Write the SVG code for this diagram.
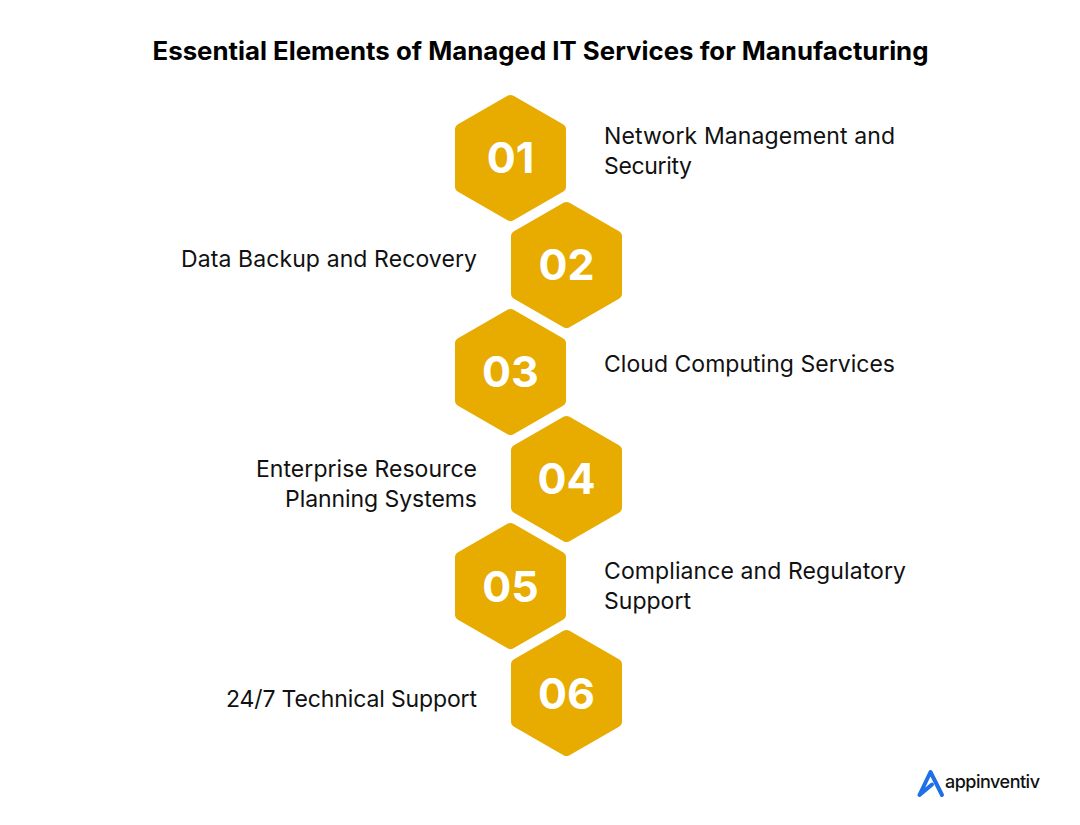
<svg xmlns="http://www.w3.org/2000/svg" width="1080" height="825" viewBox="0 0 1080 825">
<style>
.title{font:700 25px "Inter","Liberation Sans",sans-serif;fill:#000}
.lab{font:400 23px "Inter","Liberation Sans",sans-serif;fill:#111}
.num{font:700 43px "Inter","Liberation Sans",sans-serif;fill:#fff;text-anchor:middle}
.r{text-anchor:end}
.hex{fill:#e8ab00;stroke:#e8ab00;stroke-width:12;stroke-linejoin:round}
</style>
<defs><polygon id="h" points="0,-57 49.5,-28.5 49.5,28.5 0,57 -49.5,28.5 -49.5,-28.5"/></defs>
<rect width="1080" height="825" fill="#fff"/>
<text class="title" x="540.5" y="60" text-anchor="middle" textLength="776" lengthAdjust="spacingAndGlyphs">Essential Elements of Managed IT Services for Manufacturing</text>
<g id="connectors"></g>
<g id="node1"><use href="#h" class="hex" x="510.5" y="158"/><text class="num" x="510.5" y="173">01</text><text class="lab" x="604" y="144" textLength="291">Network Management and</text><text class="lab" x="604" y="174" textLength="88">Security</text></g>
<g id="node2"><use href="#h" class="hex" x="566.5" y="265"/><text class="num" x="566.5" y="280">02</text><text class="lab r" x="477" y="267" textLength="296">Data Backup and Recovery</text></g>
<g id="node3"><use href="#h" class="hex" x="510.5" y="372"/><text class="num" x="510.5" y="387">03</text><text class="lab" x="604" y="372" textLength="291">Cloud Computing Services</text></g>
<g id="node4"><use href="#h" class="hex" x="566.5" y="479"/><text class="num" x="566.5" y="494">04</text><text class="lab r" x="477" y="477" textLength="221">Enterprise Resource</text><text class="lab r" x="477" y="507" textLength="192">Planning Systems</text></g>
<g id="node5"><use href="#h" class="hex" x="510.5" y="586"/><text class="num" x="510.5" y="602">05</text><text class="lab" x="604" y="579" textLength="302">Compliance and Regulatory</text><text class="lab" x="604" y="609" textLength="87">Support</text></g>
<g id="node6"><use href="#h" class="hex" x="566.5" y="693"/><text class="num" x="566.5" y="709">06</text><text class="lab r" x="477" y="707" textLength="251">24/7 Technical Support</text></g>
<g id="logo"><path d="M919.5 795 L930.5 772 L942 795 M919.5 795 L932 784.5" fill="none" stroke="#1f6fe8" stroke-width="4" stroke-linejoin="round" stroke-linecap="round"/><text x="945" y="788" textLength="95" font-family="Inter,'Liberation Sans',sans-serif" font-size="18" font-weight="500" fill="#111">appinventiv</text></g>
</svg>
